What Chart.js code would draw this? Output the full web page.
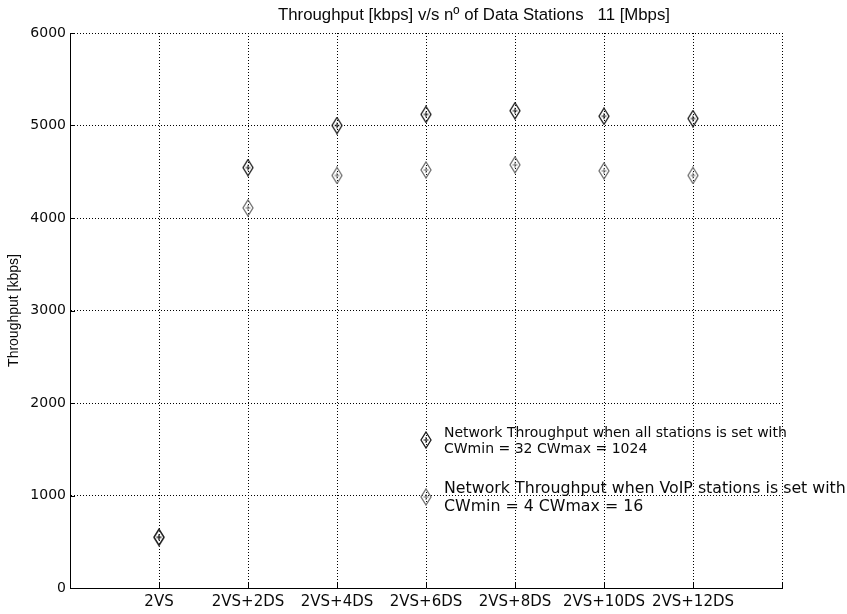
<!DOCTYPE html>
<html><head><meta charset="utf-8">
<script src="https://cdn.jsdelivr.net/npm/chart.js@4/dist/chart.umd.min.js"></script>
<style>html,body{margin:0;padding:0;background:#fff}#wrap{width:847px;height:614px;position:relative}</style>
</head><body><div id="wrap"><canvas id="c" width="847" height="614"></canvas></div>
<script>
const categories = ['2VS','2VS+2DS','2VS+4DS','2VS+6DS','2VS+8DS','2VS+10DS','2VS+12DS'];
const allStations = [550, 4545, 5000, 5120, 5160, 5100, 5075];
const voipStations = [545, 4110, 4460, 4520, 4575, 4510, 4460];
const yTicks = [0, 1000, 2000, 3000, 4000, 5000, 6000];
const seriesLabels = [
  ['Network Throughput when all stations is set with', 'CWmin = 32 CWmax = 1024'],
  ['Network Throughput when VoIP stations is set with', 'CWmin = 4 CWmax = 16']
];
const titleText = 'Throughput [kbps] v/s n\u00ba of Data Stations   11 [Mbps]';
const yTitle = 'Throughput [kbps]';

const SANS = "'Liberation Sans', Arial, sans-serif";
const DEJA = "'DejaVu Sans', sans-serif";

function makeDiamond(color, w, h) {
  const c = document.createElement('canvas');
  c.width = w + 2; c.height = h + 2;
  const g = c.getContext('2d');
  const cx = (w + 2) / 2, cy = (h + 2) / 2;
  g.strokeStyle = color; g.lineWidth = 1.3;
  g.beginPath();
  g.moveTo(cx, 1); g.lineTo(w + 1, cy); g.lineTo(cx, h + 1); g.lineTo(1, cy); g.closePath();
  g.stroke();
  g.lineWidth = 1;
  g.beginPath();
  g.moveTo(cx - 2.5, cy); g.lineTo(cx + 2.5, cy);
  g.moveTo(cx, cy - 3); g.lineTo(cx, cy + 3);
  g.stroke();
  return c;
}
const markerDark = makeDiamond('#1a1a1a', 10, 16);
const markerLight = makeDiamond('#6e6e6e', 10, 16);

const toPoints = arr => arr.map((v, i) => ({x: i + 1, y: v}));

const legendPlugin = {
  id: 'inPlotLegend',
  afterDatasetsDraw(chart) {
    const {ctx, scales: {x, y}} = chart;
    const cfg = [
      {anchorX: 4, anchorY: 1600, size: 14, dy1: -7, dy2: 9},
      {anchorX: 4, anchorY: 985, size: 15.8, dy1: -8, dy2: 10}
    ];
    chart.data.datasets.forEach((ds, i) => {
      const c = cfg[i];
      const px = x.getPixelForValue(c.anchorX), py = y.getPixelForValue(c.anchorY);
      const img = ds.pointStyle;
      ctx.drawImage(img, px - img.width / 2, py - img.height / 2);
      ctx.save();
      ctx.fillStyle = '#0a0a0a';
      ctx.font = c.size + 'px ' + DEJA;
      ctx.textBaseline = 'middle';
      ctx.textAlign = 'left';
      ctx.fillText(seriesLabels[i][0], px + 18, py + c.dy1);
      ctx.fillText(seriesLabels[i][1], px + 18, py + c.dy2);
      ctx.restore();
    });
  }
};

const titleAndTicks = {
  id: 'titleAndTicks',
  afterDraw(chart) {
    const {ctx, chartArea: a, scales: {x, y}} = chart;
    ctx.save();
    ctx.strokeStyle = '#000'; ctx.lineWidth = 1;
    ctx.beginPath();
    x.ticks.forEach(t => {
      const px = Math.round(x.getPixelForValue(t.value)) + 0.5;
      ctx.moveTo(px, a.bottom); ctx.lineTo(px, a.bottom - 5);
    });
    y.ticks.forEach(t => {
      const py = Math.round(y.getPixelForValue(t.value)) + 0.5;
      ctx.moveTo(a.left, py); ctx.lineTo(a.left + 5, py);
    });
    ctx.stroke();
    ctx.fillStyle = '#0a0a0a';
    ctx.font = '16.8px ' + SANS;
    ctx.textAlign = 'center';
    ctx.textBaseline = 'middle';
    ctx.fillText(titleText, (a.left + a.right) / 2 + 48, a.top - 18);
    ctx.restore();
  }
};

new Chart(document.getElementById('c'), {
  type: 'scatter',
  data: {
    datasets: [
      {label: seriesLabels[0].join(' '), data: toPoints(allStations), pointStyle: markerDark, pointRadius: 6, showLine: false},
      {label: seriesLabels[1].join(' '), data: toPoints(voipStations), pointStyle: markerLight, pointRadius: 6, showLine: false}
    ]
  },
  options: {
    responsive: false,
    animation: false,
    layout: {padding: {left: 0, right: 65, top: 33, bottom: 0}},
    plugins: {
      legend: {display: false},
      tooltip: {enabled: false},
      title: {display: false}
    },
    scales: {
      x: {
        type: 'linear', min: 0, max: categories.length + 1,
        afterBuildTicks: s => { s.ticks = Array.from({length: categories.length + 2}, (_, i) => ({value: i})); },
        afterFit: s => { s.height = 26; },
        ticks: {
          autoSkip: false, maxRotation: 0, padding: 5, color: '#0a0a0a',
          font: {family: DEJA, size: 15},
          callback: v => categories[v - 1] || ''
        },
        grid: {color: '#000', lineWidth: 1, drawTicks: false},
        border: {display: true, color: '#000', width: 1, dash: [1, 2]}
      },
      y: {
        min: 0, max: 6000,
        afterBuildTicks: s => { s.ticks = yTicks.map(v => ({value: v})); },
        afterFit: s => { s.width = 70; },
        ticks: {padding: 4, color: '#0a0a0a', font: {family: DEJA, size: 14}, callback: v => String(v)},
        title: {display: true, text: yTitle, color: '#0a0a0a', font: {family: SANS, size: 14}, padding: {top: 6, bottom: 0}},
        grid: {color: '#000', lineWidth: 1, drawTicks: false},
        border: {display: true, color: '#000', width: 1, dash: [1, 2]}
      }
    }
  },
  plugins: [legendPlugin, titleAndTicks]
});
</script>
</body></html>
